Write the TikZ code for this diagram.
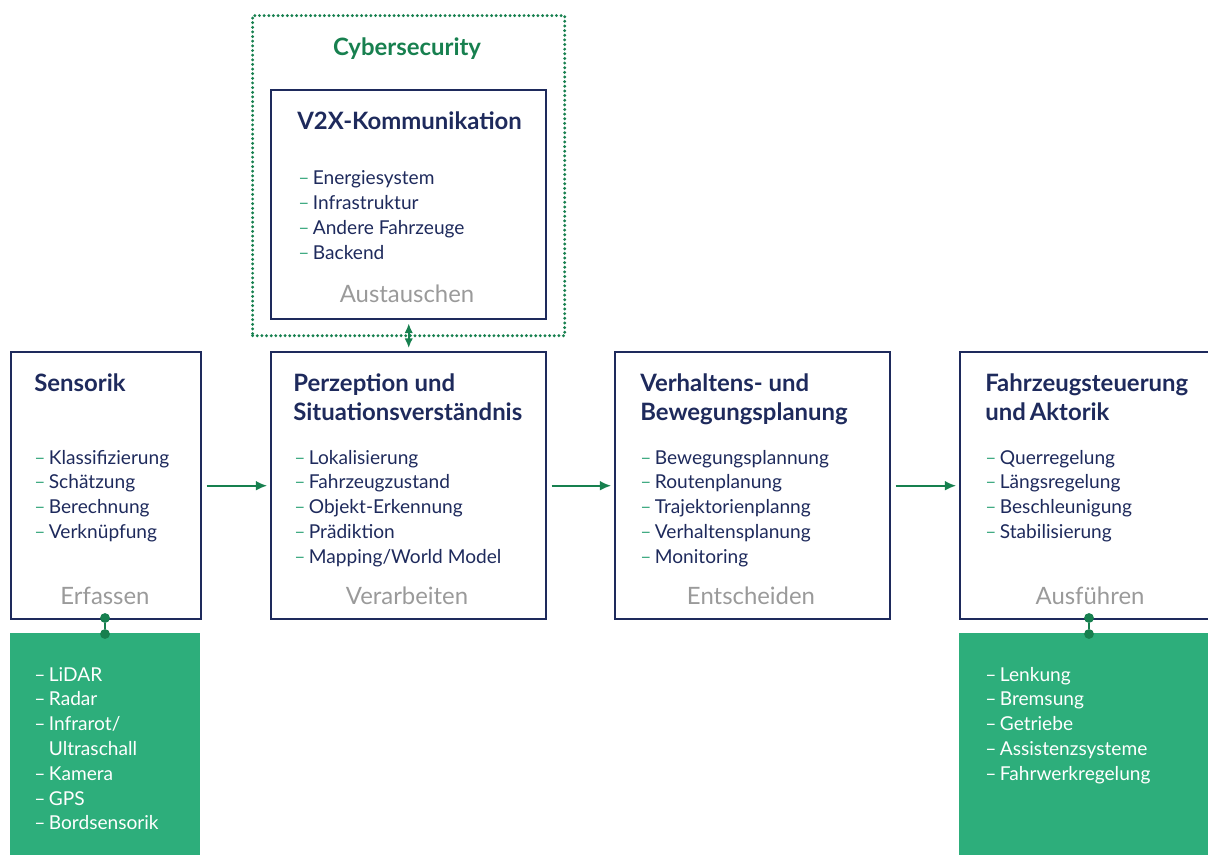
\documentclass[tikz,border=0pt]{standalone}
\usepackage{fontspec}
\setmainfont{Lato}
\usetikzlibrary{arrows.meta,positioning}
\definecolor{navy}{HTML}{1E2A5C}
\definecolor{darkgreen}{HTML}{17804F}
\definecolor{fillgreen}{HTML}{2DAE7B}
\definecolor{dashgreen}{HTML}{3FAA82}
\definecolor{footgray}{HTML}{9A9A9A}
\newcommand\gdash{\textcolor{dashgreen}{–}\hspace{2.5pt}}
\newcommand\wdash{–\hspace{2.5pt}}
\tikzset{
  stage/.style    = {rectangle, draw=navy, line width=1.7pt, inner sep=0pt, anchor=north west},
  hwbox/.style    = {rectangle, fill=fillgreen, inner sep=0pt, anchor=north west},
  secbox/.style   = {rectangle, draw=darkgreen, line width=2.3pt, line cap=round, dash pattern=on 0pt off 3.3pt, inner sep=0pt, anchor=north west},
  title/.style    = {anchor=base west, inner sep=0pt, text=navy, font=\fontsize{17}{20.6}\selectfont\bfseries, align=left},
  entry/.style    = {anchor=base west, inner sep=0pt, text=navy, font=\fontsize{13.6}{17}\selectfont},
  hwentry/.style  = {entry, text=white},
  footer/.style   = {anchor=base, inner sep=0pt, text=footgray, font=\fontsize{17}{20}\selectfont},
  flow/.style     = {-{Latex[length=8pt,width=7pt]}, darkgreen, line width=1.5pt},
  joint/.style    = {circle, fill=darkgreen, inner sep=0pt, minimum size=7pt},
  link/.style     = {darkgreen, line width=1.5pt}
}

\begin{document}
\begin{tikzpicture}[x=0.025cm, y=-0.025cm]
    \useasboundingbox (0,0) rectangle (1208,854);
    % Boxes
    \node[secbox, minimum width=7.8cm, minimum height=8.0cm] (cyber) at (251,14) {};
    \node[stage, minimum width=6.875cm, minimum height=5.725cm] (v2x) at (270,89) {};
    \node[stage, minimum width=4.75cm, minimum height=6.675cm] (sens) at (10,351) {};
    \node[stage, minimum width=6.875cm, minimum height=6.675cm] (perz) at (270,351) {};
    \node[stage, minimum width=6.875cm, minimum height=6.675cm] (plan) at (614,351) {};
    \node[stage, minimum width=6.6cm, minimum height=6.675cm] (ctrl) at (959,351) {};
    \node[hwbox, minimum width=4.75cm, minimum height=6.0cm] (sensors) at (10,633) {};
    \node[hwbox, minimum width=6.6cm, minimum height=6.0cm] (actors) at (959,633) {};

    % Titles (two-line titles sit on their last baseline)
    \node[anchor=base, inner sep=0pt, text=darkgreen, font=\fontsize{17}{20}\selectfont\bfseries] (cybertitle) at (407,56) {Cybersecurity};
    \node[title] (v2xtitle) at (297,129) {V2X-Kommunikation};
    \node[title] (senstitle) at (34,391) {Sensorik};
    \node[title] (perztitle) at (293,420) {Perzeption und\\Situationsverständnis};
    \node[title] (plantitle) at (640,420) {Verhaltens- und\\Bewegungsplanung};
    \node[title] (ctrltitle) at (985,420) {Fahrzeugsteuerung\\und\,Aktorik};

    % Lists
    \foreach \txt [count=\i] in {Energiesystem, Infrastruktur, Andere Fahrzeuge, Backend}
      \node[entry] (v2x-\i) at (298,{184+25.3*(\i-1)}) {\gdash\txt};
    \foreach \txt [count=\i] in {Klassifizierung, Schätzung, Berechnung, Verknüpfung}
      \node[entry] (sens-\i) at (34,{464+24.8*(\i-1)}) {\gdash\txt};
    \foreach \txt [count=\i] in {Lokalisierung, Fahrzeugzustand, Objekt-Erkennung, Prädiktion, Mapping/World Model}
      \node[entry] (perz-\i) at (294,{464+24.8*(\i-1)}) {\gdash\txt};
    \foreach \txt [count=\i] in {Bewegungsplannung, Routenplanung, Trajektorienplanng, Verhaltensplanung, Monitoring}
      \node[entry] (plan-\i) at (640,{464+24.8*(\i-1)}) {\gdash\txt};
    \foreach \txt [count=\i] in {Querregelung, Längsregelung, Beschleunigung, Stabilisierung}
      \node[entry] (ctrl-\i) at (985,{464+24.8*(\i-1)}) {\gdash\txt};
    \foreach \txt [count=\i] in {\wdash LiDAR, \wdash Radar, \wdash Infrarot/, \hphantom{\wdash}Ultraschall, \wdash Kamera, \wdash GPS, \wdash Bordsensorik}
      \node[hwentry] (sensors-\i) at (34,{681+24.8*(\i-1)}) {\txt};
    \foreach \txt [count=\i] in {Lenkung, Bremsung, Getriebe, Assistenzsysteme, Fahrwerkregelung}
      \node[hwentry] (actors-\i) at (985,{681+24.8*(\i-1)}) {\wdash\txt};

    % Footers
    \node[footer] (v2xfoot) at (407,302) {Austauschen};
    \node[footer] (sensfoot) at (105,604) {Erfassen};
    \node[footer] (perzfoot) at (407,604) {Verarbeiten};
    \node[footer] (planfoot) at (751,604) {Entscheiden};
    \node[footer] (ctrlfoot) at (1090,604) {Ausführen};

    % Arrows
    \draw[flow, shorten <=3pt, shorten >=2pt] (sens) -- (perz);
    \draw[flow, shorten <=3pt, shorten >=2pt] (perz) -- (plan);
    \draw[flow, shorten <=3pt, shorten >=2pt] (plan.east) -- (plan.east -| ctrl.west);
    \draw[flow, {Latex[length=7pt,width=6pt]}-{Latex[length=7pt,width=6pt]}, shorten <=2pt, shorten >=2pt] (v2x) -- (perz);

    % Hardware links
    \node[joint] (sensjoint) at (105,618) {};
    \node[joint] (sensorsjoint) at (105,634) {};
    \node[joint] (ctrljoint) at (1089,618) {};
    \node[joint] (actorsjoint) at (1089,634) {};
    \draw[link] (sensjoint) -- (sensorsjoint);
    \draw[link] (ctrljoint) -- (actorsjoint);
  \end{tikzpicture}
\end{document}
